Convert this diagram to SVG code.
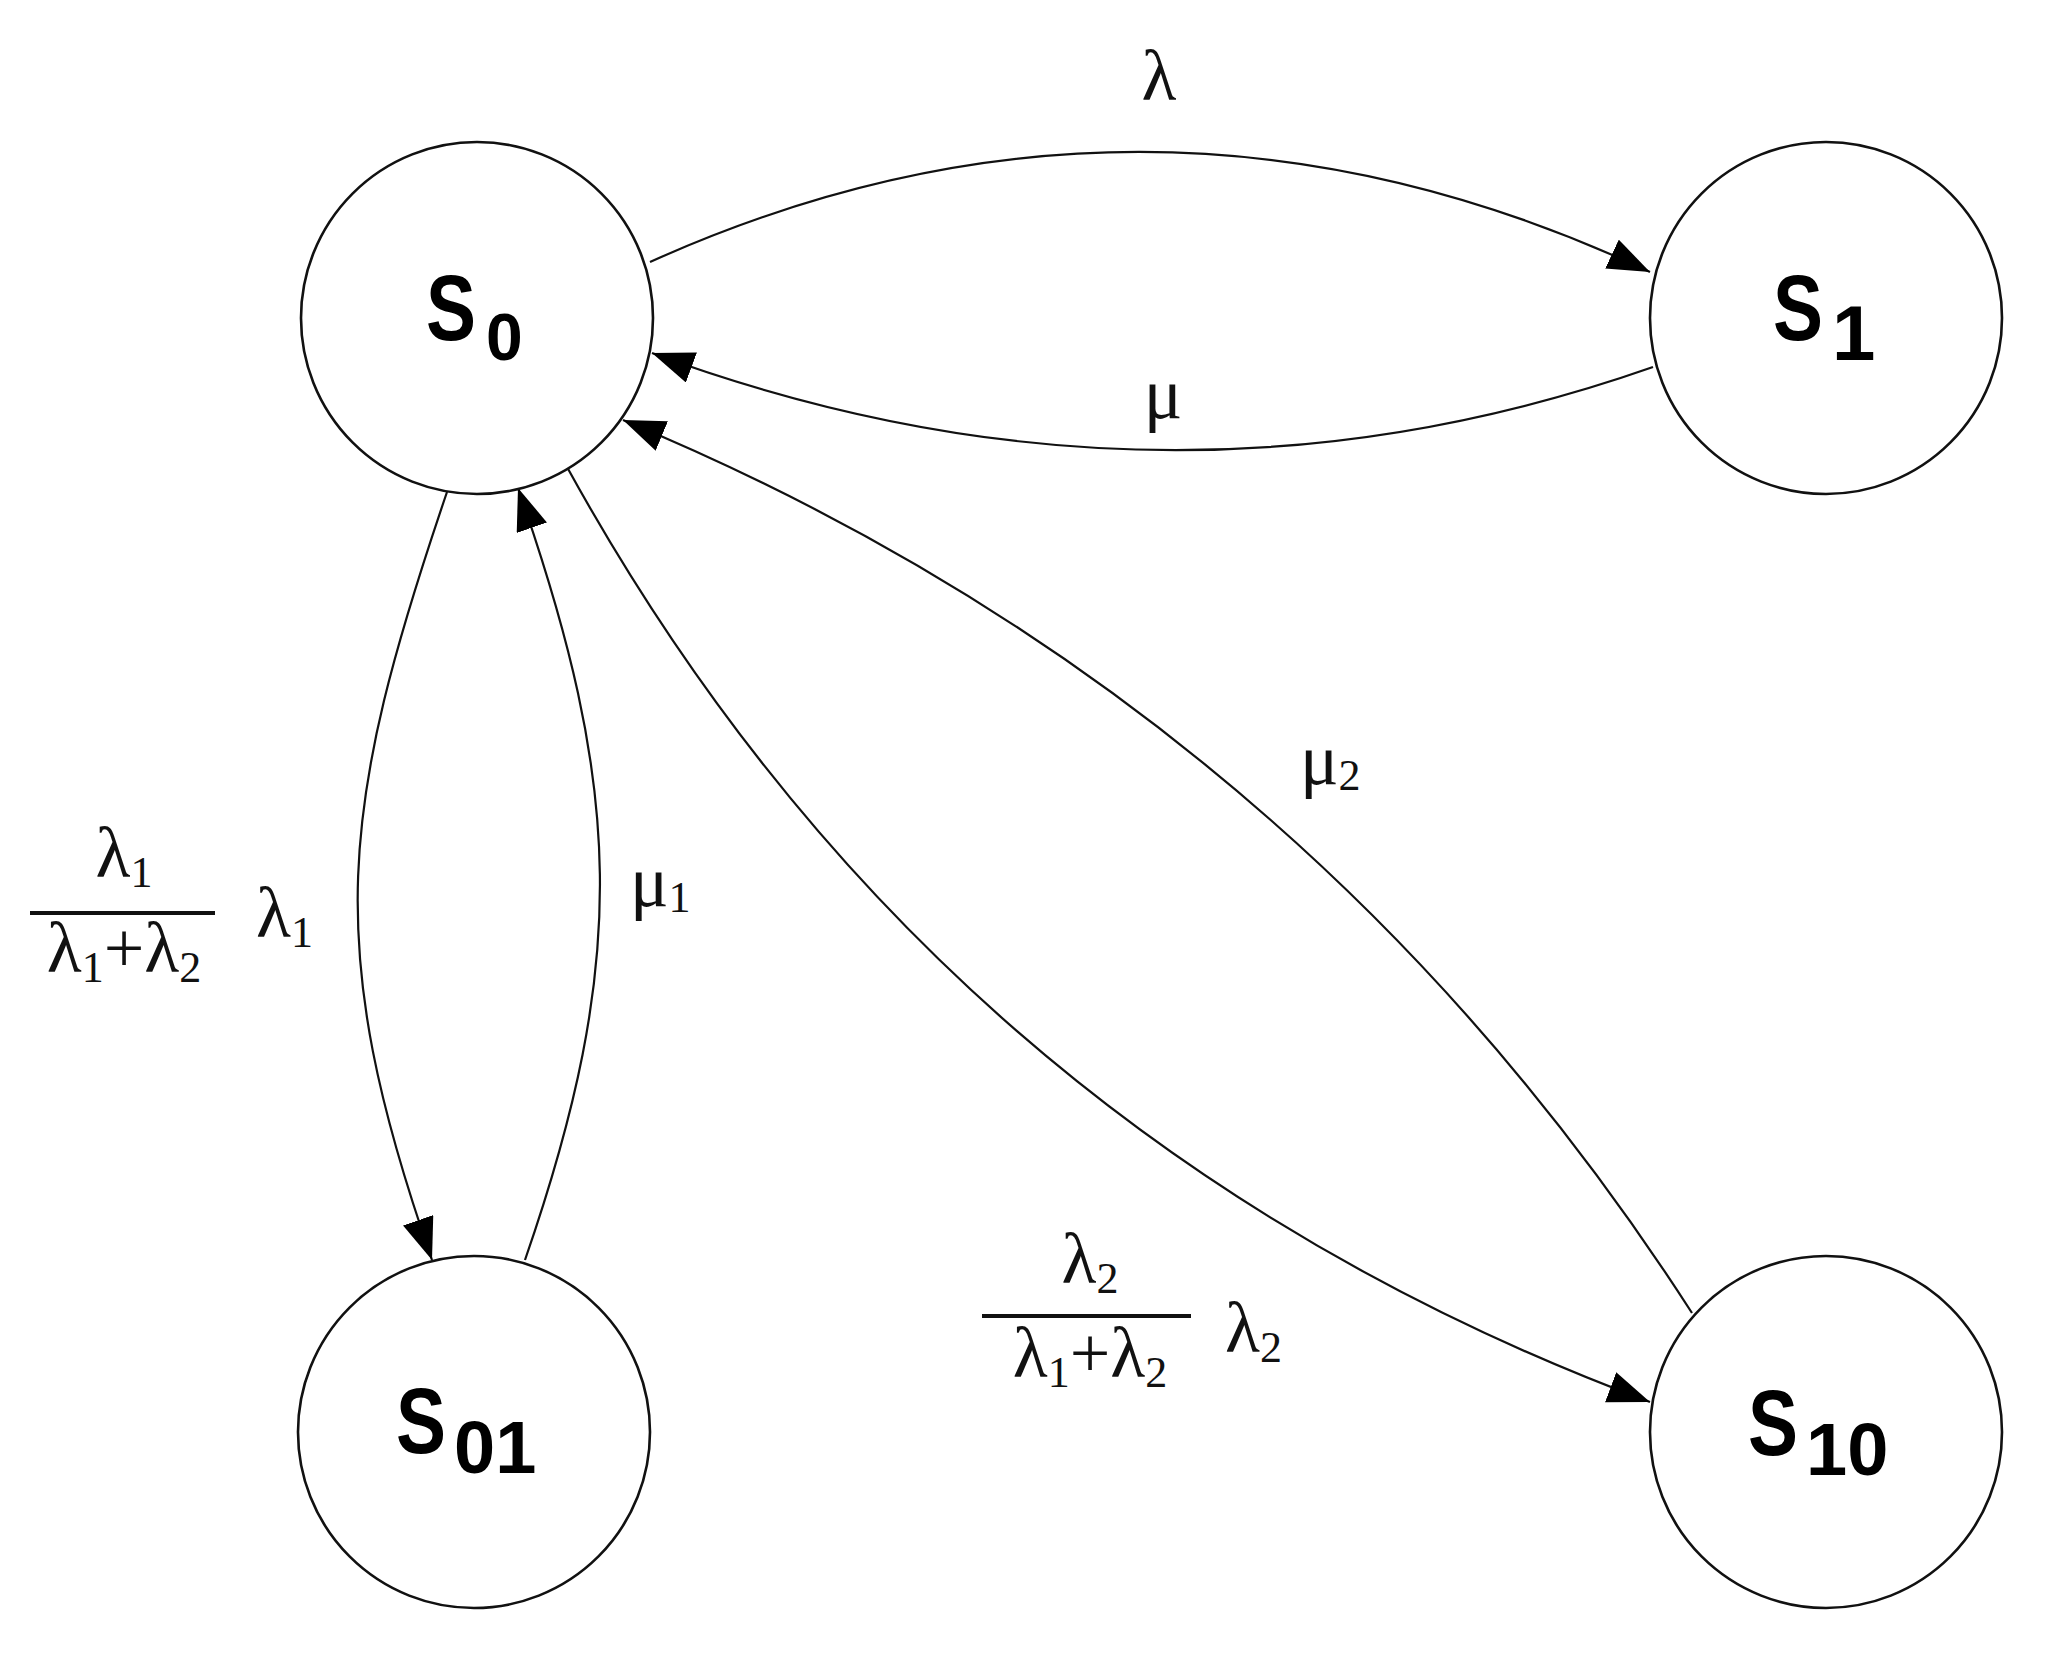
<svg xmlns="http://www.w3.org/2000/svg" width="2051" height="1654" viewBox="0 0 2051 1654">
<defs>
<marker id="arr" markerUnits="userSpaceOnUse" markerWidth="44" markerHeight="34" refX="42" refY="16" orient="auto">
<path d="M0,0 L42,16 L0,32 z" fill="#000"/>
</marker>
<style>
.node{fill:#fff;stroke:#111;stroke-width:2.6}
.st{font-family:"Liberation Sans",Arial,sans-serif;font-weight:bold;fill:#000}
.edge{fill:none;stroke:#111;stroke-width:2.2}
.lb{font-family:"Liberation Serif","Times New Roman",serif;fill:#111}
.bar{stroke:#111;stroke-width:4}
</style>
</defs>
<rect width="2051" height="1654" fill="#fff"/>
<g id="connectors">
<path class="edge" d="M650,262 Q1150,37 1650,272" marker-end="url(#arr)"/>
<path class="edge" d="M1653,367 Q1160,540 652,353" marker-end="url(#arr)"/>
<path class="edge" d="M1692,1313 Q1297,699 623,420" marker-end="url(#arr)"/>
<path class="edge" d="M567,467 Q935,1136 1650,1402" marker-end="url(#arr)"/>
<path class="edge" d="M447,492 C340,807 322,945 432,1260" marker-end="url(#arr)"/>
<path class="edge" d="M525,1260 C629,959 623,789 518,488" marker-end="url(#arr)"/>
</g>
<g id="labels">
<text class="lb" x="1159" y="100" font-size="72" text-anchor="middle">λ</text>
<text class="lb" x="1163" y="418" font-size="72" text-anchor="middle">μ</text>
<text class="lb" x="1300" y="784" font-size="72">μ<tspan font-size="44" dy="6">2</tspan></text>
<text class="lb" x="630" y="906" font-size="72">μ<tspan font-size="44" dy="6">1</tspan></text>
<g id="frac1">
<text class="lb" x="124" y="877" font-size="72" text-anchor="middle">λ<tspan font-size="44" dy="10">1</tspan></text>
<line class="bar" x1="30" y1="913" x2="215" y2="913"/>
<text class="lb" x="124" y="972" font-size="72" text-anchor="middle">λ<tspan font-size="44" dy="10">1</tspan><tspan dy="-10">+λ</tspan><tspan font-size="44" dy="10">2</tspan></text>
<text class="lb" x="256" y="937" font-size="72">λ<tspan font-size="44" dy="10">1</tspan></text>
</g>
<g id="frac2">
<text class="lb" x="1090" y="1283" font-size="72" text-anchor="middle">λ<tspan font-size="44" dy="10">2</tspan></text>
<line class="bar" x1="982" y1="1316" x2="1191" y2="1316"/>
<text class="lb" x="1090" y="1377" font-size="72" text-anchor="middle">λ<tspan font-size="44" dy="10">1</tspan><tspan dy="-10">+λ</tspan><tspan font-size="44" dy="10">2</tspan></text>
<text class="lb" x="1225" y="1352" font-size="72">λ<tspan font-size="44" dy="10">2</tspan></text>
</g>
</g>
<g id="S0">
<circle class="node" cx="477" cy="318" r="176"/>
<text class="st" x="426" y="340" font-size="92" textLength="50" lengthAdjust="spacingAndGlyphs">S</text>
<text class="st" x="486" y="360" font-size="66">0</text>
</g>
<g id="S1">
<circle class="node" cx="1826" cy="318" r="176"/>
<text class="st" x="1773" y="340" font-size="92" textLength="50" lengthAdjust="spacingAndGlyphs">S</text>
<text class="st" x="1832" y="360" font-size="78">1</text>
</g>
<g id="S01">
<circle class="node" cx="474" cy="1432" r="176"/>
<text class="st" x="396" y="1453" font-size="92" textLength="50" lengthAdjust="spacingAndGlyphs">S</text>
<text class="st" x="454" y="1473" font-size="74">01</text>
</g>
<g id="S10">
<circle class="node" cx="1826" cy="1432" r="176"/>
<text class="st" x="1748" y="1455" font-size="92" textLength="50" lengthAdjust="spacingAndGlyphs">S</text>
<text class="st" x="1806" y="1475" font-size="74">10</text>
</g>
</svg>
